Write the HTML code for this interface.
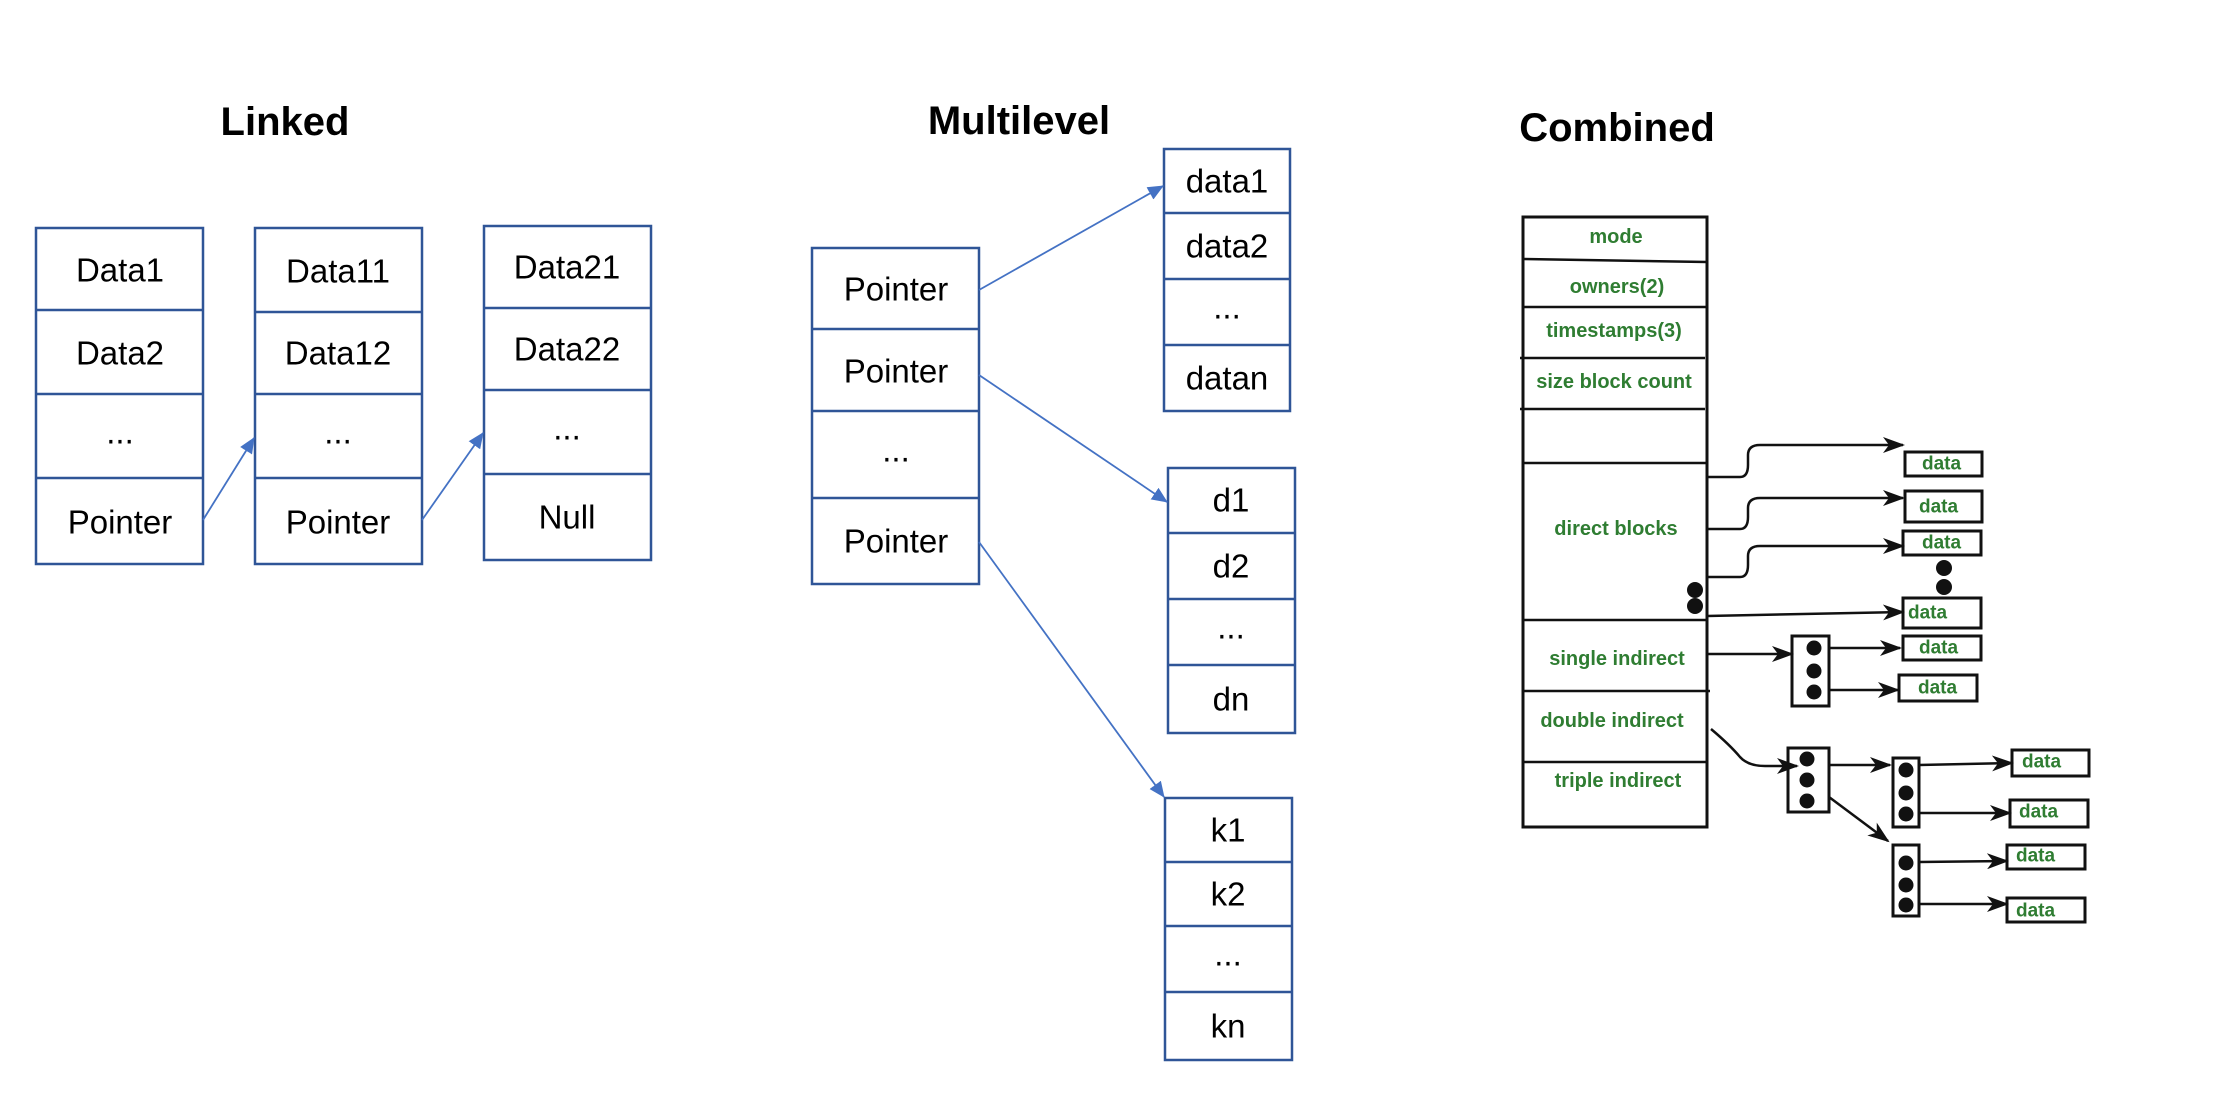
<!DOCTYPE html>
<html><head><meta charset="utf-8"><style>
html,body{margin:0;padding:0;background:#fff}
svg{display:block}
.t{font-family:"Liberation Sans",sans-serif;font-size:33px;fill:#000;text-anchor:middle;dominant-baseline:central}
.h{font-family:"Liberation Sans",sans-serif;font-weight:bold;fill:#000}
.g{font-family:"Liberation Sans",sans-serif;font-weight:bold;font-size:20px;fill:#2f7d32;text-anchor:middle;dominant-baseline:central}
.gd{font-family:"Liberation Sans",sans-serif;font-weight:bold;font-size:19px;fill:#2f7d32;dominant-baseline:central}
.b{fill:none;stroke:#2f5597;stroke-width:2.5}
.a{stroke:#4472c4;stroke-width:1.8;fill:none}
.k{stroke:#111;stroke-width:3;fill:none}
.k2{stroke:#111;stroke-width:2.5;fill:none}
</style></head><body>
<svg width="2215" height="1108" viewBox="0 0 2215 1108" xmlns="http://www.w3.org/2000/svg">
<defs>
<marker id="ab" markerWidth="16" markerHeight="14" refX="15" refY="7" orient="auto" markerUnits="userSpaceOnUse"><path d="M0,0 L16,7 L0,14 z" fill="#4472c4"/></marker>
<marker id="ak" markerWidth="22" markerHeight="16" refX="20" refY="8" orient="auto" markerUnits="userSpaceOnUse"><path d="M0,0 L22,8 L0,16 L6,8 z" fill="#111"/></marker>
</defs>

<!-- Linked -->
<text class="h" x="285" y="135" font-size="40" text-anchor="middle">Linked</text>
<rect class="b" x="36" y="228" width="167" height="336"/>
<line class="b" x1="36" y1="310" x2="203" y2="310"/><line class="b" x1="36" y1="394" x2="203" y2="394"/><line class="b" x1="36" y1="478" x2="203" y2="478"/>
<text class="t" x="120" y="270">Data1</text><text class="t" x="120" y="353">Data2</text><text class="t" x="120" y="432">...</text><text class="t" x="120" y="522">Pointer</text>
<rect class="b" x="255" y="228" width="167" height="336"/>
<line class="b" x1="255" y1="312" x2="422" y2="312"/><line class="b" x1="255" y1="394" x2="422" y2="394"/><line class="b" x1="255" y1="478" x2="422" y2="478"/>
<text class="t" x="338" y="271">Data11</text><text class="t" x="338" y="353">Data12</text><text class="t" x="338" y="432">...</text><text class="t" x="338" y="522">Pointer</text>
<rect class="b" x="484" y="226" width="167" height="334"/>
<line class="b" x1="484" y1="308" x2="651" y2="308"/><line class="b" x1="484" y1="390" x2="651" y2="390"/><line class="b" x1="484" y1="474" x2="651" y2="474"/>
<text class="t" x="567" y="267">Data21</text><text class="t" x="567" y="349">Data22</text><text class="t" x="567" y="428">...</text><text class="t" x="567" y="517">Null</text>
<line class="a" x1="203" y1="520" x2="254" y2="438" marker-end="url(#ab)"/>
<line class="a" x1="422" y1="520" x2="483" y2="433" marker-end="url(#ab)"/>

<!-- Multilevel -->
<text class="h" x="1019" y="134" font-size="40" text-anchor="middle">Multilevel</text>
<rect class="b" x="812" y="248" width="167" height="336"/>
<line class="b" x1="812" y1="329" x2="979" y2="329"/><line class="b" x1="812" y1="411" x2="979" y2="411"/><line class="b" x1="812" y1="498" x2="979" y2="498"/>
<text class="t" x="896" y="289">Pointer</text><text class="t" x="896" y="371">Pointer</text><text class="t" x="896" y="450">...</text><text class="t" x="896" y="541">Pointer</text>
<rect class="b" x="1164" y="149" width="126" height="262"/>
<line class="b" x1="1164" y1="213" x2="1290" y2="213"/><line class="b" x1="1164" y1="279" x2="1290" y2="279"/><line class="b" x1="1164" y1="345" x2="1290" y2="345"/>
<text class="t" x="1227" y="181">data1</text><text class="t" x="1227" y="246">data2</text><text class="t" x="1227" y="307">...</text><text class="t" x="1227" y="378">datan</text>
<rect class="b" x="1168" y="468" width="127" height="265"/>
<line class="b" x1="1168" y1="533" x2="1295" y2="533"/><line class="b" x1="1168" y1="599" x2="1295" y2="599"/><line class="b" x1="1168" y1="665" x2="1295" y2="665"/>
<text class="t" x="1231" y="500">d1</text><text class="t" x="1231" y="566">d2</text><text class="t" x="1231" y="627">...</text><text class="t" x="1231" y="699">dn</text>
<rect class="b" x="1165" y="798" width="127" height="262"/>
<line class="b" x1="1165" y1="862" x2="1292" y2="862"/><line class="b" x1="1165" y1="926" x2="1292" y2="926"/><line class="b" x1="1165" y1="992" x2="1292" y2="992"/>
<text class="t" x="1228" y="830">k1</text><text class="t" x="1228" y="894">k2</text><text class="t" x="1228" y="954">...</text><text class="t" x="1228" y="1026">kn</text>
<line class="a" x1="979" y1="290" x2="1163" y2="186" marker-end="url(#ab)"/>
<line class="a" x1="979" y1="375" x2="1167" y2="502" marker-end="url(#ab)"/>
<line class="a" x1="979" y1="542" x2="1164" y2="797" marker-end="url(#ab)"/>

<!-- Combined -->
<text class="h" x="1617" y="141" font-size="40" text-anchor="middle">Combined</text>
<rect class="k" x="1523" y="217" width="184" height="610"/>
<line class="k2" x1="1523" y1="259" x2="1707" y2="262"/>
<line class="k2" x1="1523" y1="307" x2="1707" y2="307"/>
<line class="k2" x1="1520" y1="358" x2="1705" y2="358"/>
<line class="k2" x1="1520" y1="409" x2="1705" y2="409"/>
<line class="k2" x1="1523" y1="463" x2="1707" y2="463"/>
<line class="k2" x1="1523" y1="620" x2="1707" y2="620"/>
<line class="k2" x1="1523" y1="691" x2="1710" y2="691"/>
<line class="k2" x1="1523" y1="762" x2="1707" y2="762"/>
<text class="g" x="1616" y="237">mode</text>
<text class="g" x="1617" y="287">owners(2)</text>
<text class="g" x="1614" y="331">timestamps(3)</text>
<text class="g" x="1614" y="382">size block count</text>
<text class="g" x="1616" y="529">direct blocks</text>
<text class="g" x="1617" y="659">single indirect</text>
<text class="g" x="1612" y="721">double indirect</text>
<text class="g" x="1618" y="781">triple indirect</text>
<circle cx="1695" cy="590" r="8" fill="#111"/><circle cx="1695" cy="606" r="8" fill="#111"/>
<circle cx="1944" cy="568" r="8" fill="#111"/><circle cx="1944" cy="587" r="8" fill="#111"/>

<!-- data boxes -->
<g class="k">
<rect x="1905" y="452" width="77" height="24"/>
<rect x="1905" y="491" width="77" height="31"/>
<rect x="1903" y="531" width="78" height="24"/>
<rect x="1903" y="598" width="78" height="30"/>
<rect x="1903" y="636" width="78" height="24"/>
<rect x="1899" y="675" width="78" height="26"/>
<rect x="2012" y="750" width="77" height="26"/>
<rect x="2010" y="800" width="78" height="27"/>
<rect x="2007" y="845" width="78" height="24"/>
<rect x="2007" y="898" width="78" height="24"/>
</g>
<text class="gd" x="1922" y="464">data</text>
<text class="gd" x="1919" y="507">data</text>
<text class="gd" x="1922" y="543">data</text>
<text class="gd" x="1908" y="613">data</text>
<text class="gd" x="1919" y="648">data</text>
<text class="gd" x="1918" y="688">data</text>
<text class="gd" x="2022" y="762">data</text>
<text class="gd" x="2019" y="812">data</text>
<text class="gd" x="2016" y="856">data</text>
<text class="gd" x="2016" y="911">data</text>

<!-- direct arrows -->
<path class="k2" d="M1707,477 H1740 Q1748,477 1748,465 V455 Q1748,445 1760,445 H1903" marker-end="url(#ak)"/>
<path class="k2" d="M1707,529 H1740 Q1748,529 1748,517 V508 Q1748,498 1760,498 H1903" marker-end="url(#ak)"/>
<path class="k2" d="M1707,577 H1740 Q1748,577 1748,565 V556 Q1748,546 1760,546 H1903" marker-end="url(#ak)"/>
<line class="k2" x1="1707" y1="616" x2="1903" y2="612" marker-end="url(#ak)"/>

<!-- single indirect -->
<line class="k2" x1="1707" y1="654" x2="1792" y2="654" marker-end="url(#ak)"/>
<rect class="k" x="1792" y="636" width="37" height="70"/>
<circle cx="1814" cy="648" r="7.5" fill="#111"/><circle cx="1814" cy="671" r="7.5" fill="#111"/><circle cx="1814" cy="692" r="7.5" fill="#111"/>
<line class="k2" x1="1829" y1="648" x2="1900" y2="648" marker-end="url(#ak)"/>
<line class="k2" x1="1829" y1="690" x2="1898" y2="690" marker-end="url(#ak)"/>

<!-- double indirect -->
<path class="k2" d="M1711,729 Q1730,745 1740,757 Q1748,766 1765,766 H1797" marker-end="url(#ak)"/>
<rect class="k" x="1788" y="748" width="41" height="64"/>
<circle cx="1807" cy="759" r="7.5" fill="#111"/><circle cx="1807" cy="780" r="7.5" fill="#111"/><circle cx="1807" cy="801" r="7.5" fill="#111"/>
<line class="k2" x1="1829" y1="765" x2="1890" y2="765" marker-end="url(#ak)"/>
<line class="k2" x1="1829" y1="797" x2="1888" y2="841" marker-end="url(#ak)"/>
<rect class="k" x="1893" y="758" width="26" height="69"/>
<circle cx="1906" cy="770" r="7.5" fill="#111"/><circle cx="1906" cy="793" r="7.5" fill="#111"/><circle cx="1906" cy="814" r="7.5" fill="#111"/>
<rect class="k" x="1893" y="845" width="26" height="71"/>
<circle cx="1906" cy="863" r="7.5" fill="#111"/><circle cx="1906" cy="885" r="7.5" fill="#111"/><circle cx="1906" cy="905" r="7.5" fill="#111"/>
<line class="k2" x1="1919" y1="765" x2="2012" y2="763" marker-end="url(#ak)"/>
<line class="k2" x1="1919" y1="813" x2="2010" y2="813" marker-end="url(#ak)"/>
<line class="k2" x1="1919" y1="862" x2="2007" y2="861" marker-end="url(#ak)"/>
<line class="k2" x1="1919" y1="904" x2="2007" y2="904" marker-end="url(#ak)"/>
</svg>
</body></html>
